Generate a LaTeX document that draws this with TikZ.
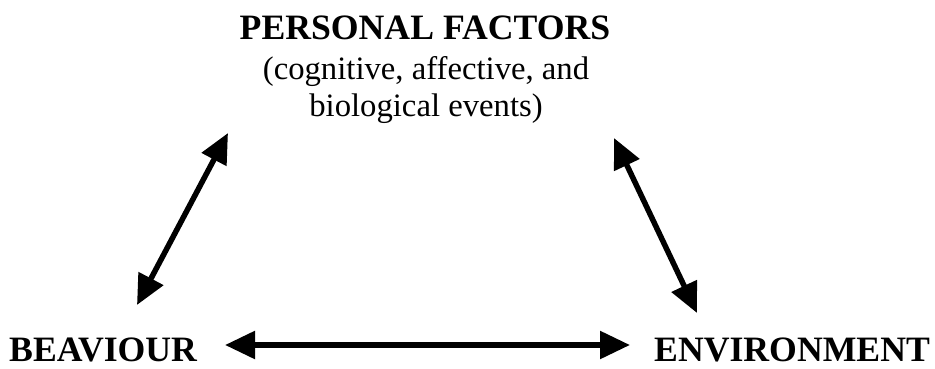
\documentclass[tikz,border=0pt]{standalone}
\usepackage{fontspec}
\setmainfont{Liberation Serif}
\usetikzlibrary{arrows.meta}
\tikzset{
  lbl/.style={inner sep=0pt, font=\fontsize{35.7}{40}\selectfont\bfseries},
  sub/.style={inner sep=0pt, font=\fontsize{32.7}{37}\selectfont},
  dbl/.style={line width=5.5pt, {Triangle[length=30pt,width=27pt]}-{Triangle[length=30pt,width=27pt]}}
}
\begin{document}
\begin{tikzpicture}[x=1pt,y=-1pt]
\useasboundingbox (0,0) rectangle (935,369);
\node[lbl, anchor=base] (pf) at (425,40) {PERSONAL FACTORS};
\node[sub, anchor=base] (s1) at (426,80) {(cognitive, affective, and};
\node[sub, anchor=base] (s2) at (426,117) {biological events)};
\node[lbl, anchor=base west] (beh) at (9,361) {BEAVIOUR};
\node[lbl, anchor=base west] (env) at (654,361) {ENVIRONMENT};
\coordinate (pfl) at (228,133);
\coordinate (behu) at (137,305);
\coordinate (pfr) at (614,138);
\coordinate (envu) at (697,313);
\coordinate (behr) at (225,345);
\coordinate (envl) at (630,345);
\draw[dbl] (behu) -- (pfl);
\draw[dbl] (pfr) -- (envu);
\draw[dbl] (behr) -- (envl);
\end{tikzpicture}
\end{document}
